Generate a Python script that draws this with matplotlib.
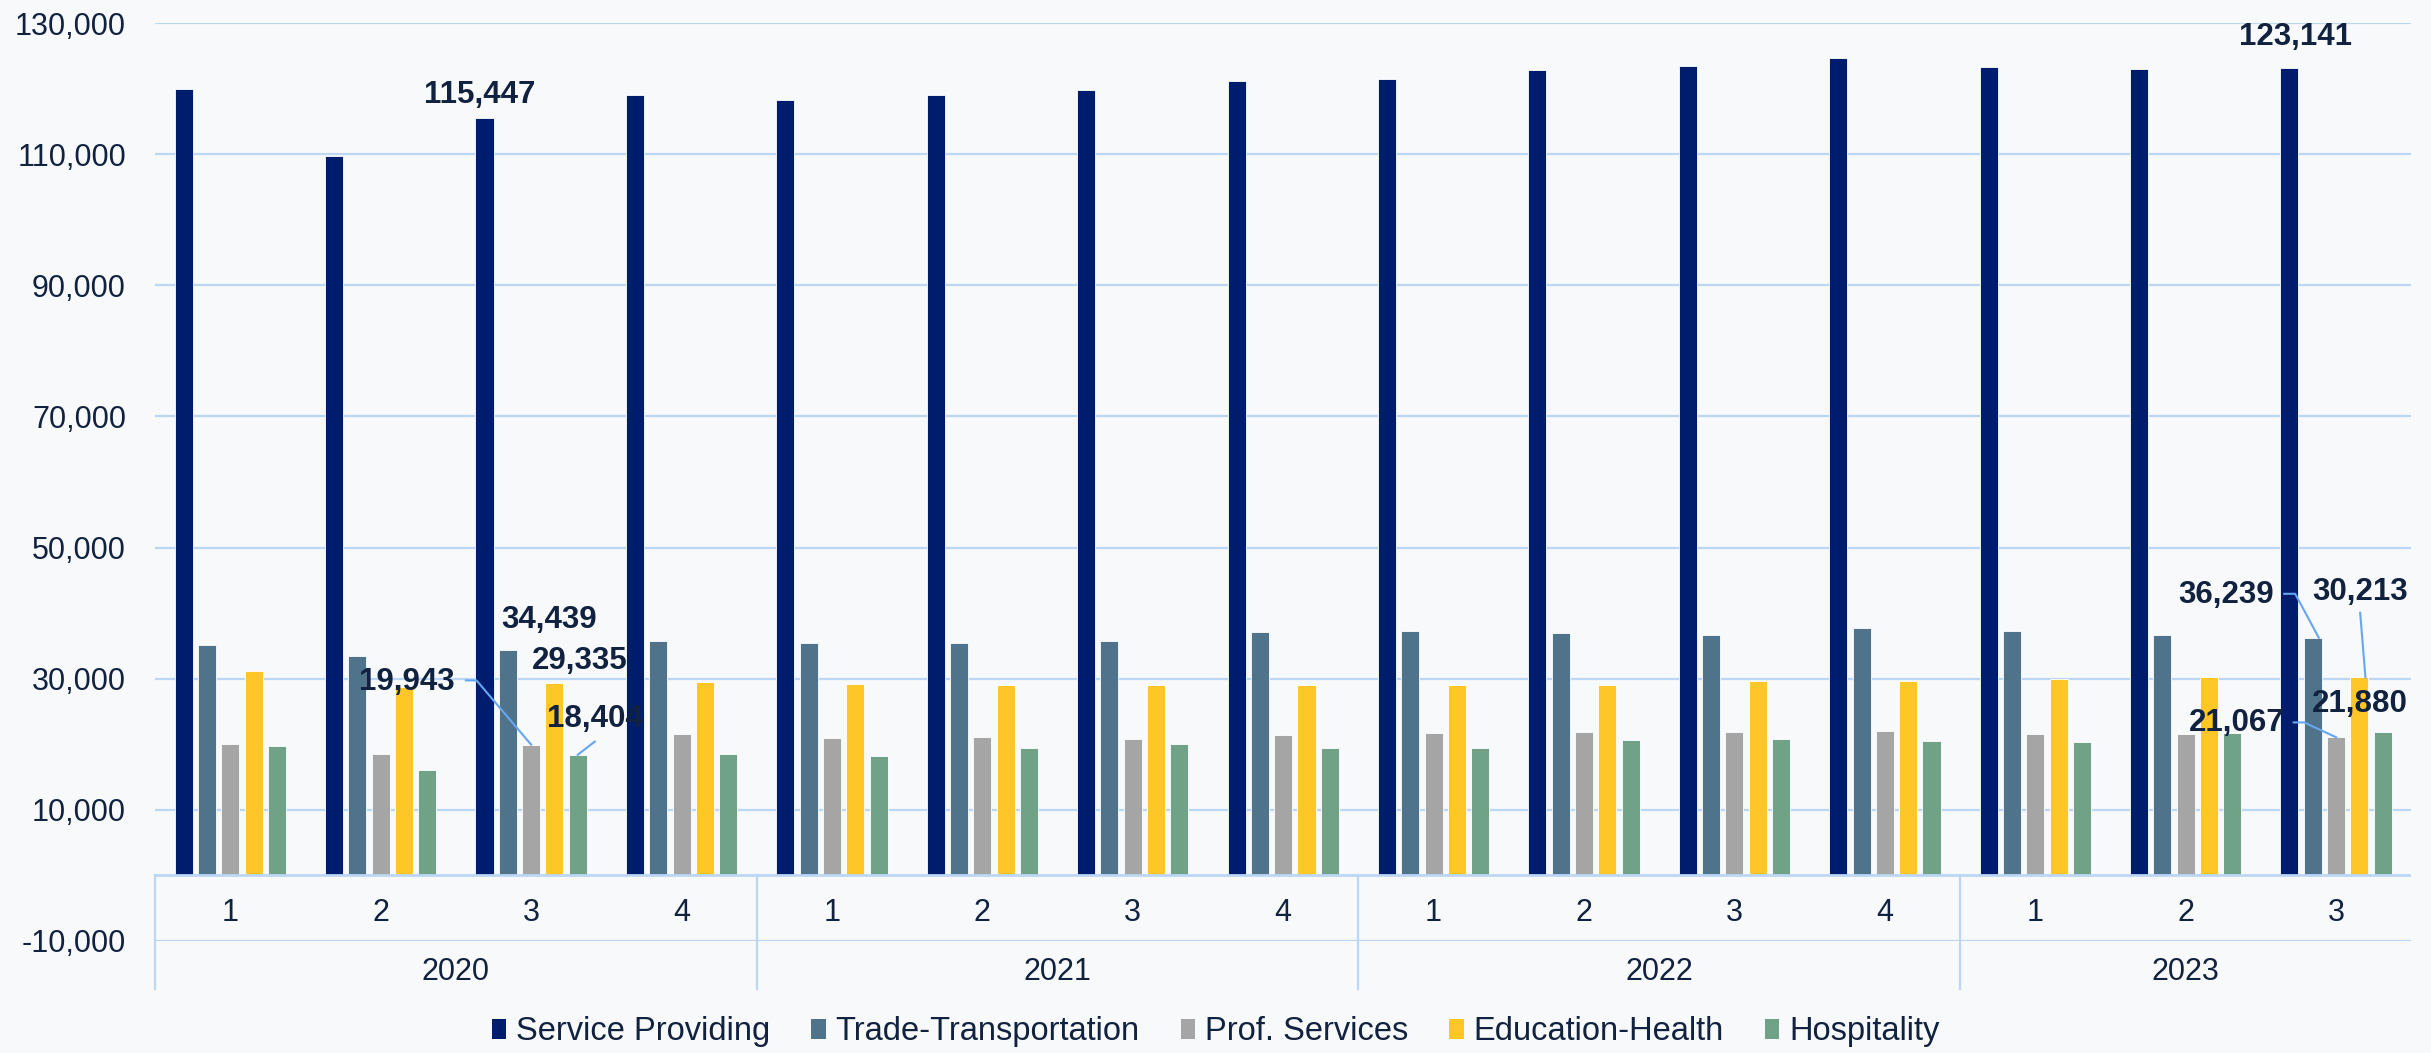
import matplotlib
matplotlib.use("Agg")
import matplotlib.pyplot as plt
from matplotlib.patches import Patch
from matplotlib.ticker import FuncFormatter

plt.rcParams['font.family'] = ['Liberation Sans', 'DejaVu Sans']

# quarterly data
years = ["2020", "2021", "2022", "2023"]
quarters = ["1", "2", "3", "4", "1", "2", "3", "4", "1", "2", "3", "4", "1", "2", "3"]
year_spans = [(0, 3), (4, 7), (8, 11), (12, 14)]

series_names = ["Service Providing", "Trade-Transportation", "Prof. Services",
                "Education-Health", "Hospitality"]
service = [119950, 109750, 115447, 119000, 118200, 119000, 119750, 121200,
           121400, 122900, 123450, 124600, 123300, 123050, 123141]
trade = [35100, 33400, 34439, 35800, 35500, 35400, 35700, 37100,
         37300, 37000, 36700, 37800, 37200, 36600, 36239]
prof = [20050, 18500, 19943, 21600, 20900, 21100, 20800, 21400,
        21700, 21900, 21900, 22000, 21500, 21600, 21067]
edu = [31200, 28700, 29335, 29500, 29200, 29100, 29100, 29100,
       29100, 29100, 29600, 29600, 29900, 30200, 30213]
hosp = [19750, 16100, 18404, 18500, 18200, 19400, 20100, 19500,
        19400, 20600, 20800, 20500, 20400, 21700, 21880]
colors = ["#001C6C", "#4F738A", "#A5A5A5", "#FFC627", "#70A288"]

text_col = "#10223F"
grid_col = "#BCD7F6"
lead_col = "#66A6F2"

fig = plt.figure(figsize=(24.31, 10.53), dpi=100, facecolor="#F8F9FA")
ax = fig.add_axes([0.0638, 0.1064, 0.9281, 0.8717])
ax.set_facecolor("none")

all_series = [service, trade, prof, edu, hosp]
n = len(quarters)
x = list(range(n))
step = 0.155
width = 0.12
for k, (vals, name, col) in enumerate(zip(all_series, series_names, colors)):
    xs = [i + (k - 2) * step for i in x]
    ax.bar(xs, vals, width=width, color=col, edgecolor="white", linewidth=0.6,
           label=name, zorder=3)

ax.set_xlim(-0.5, n - 0.5)
ax.set_ylim(-10000, 130000)
ax.set_yticks(range(-10000, 130001, 20000))
ax.yaxis.set_major_formatter(FuncFormatter(lambda v, p: f"{v:,.0f}"))
ax.tick_params(axis="y", length=0, pad=21, labelsize=22, labelcolor=text_col)
ax.set_xticks([])
ax.yaxis.grid(True, color=grid_col, lw=1.6, zorder=0)
ax.axhline(0, color=grid_col, lw=2, zorder=4)
for s in ax.spines.values():
    s.set_visible(False)

# multi-level category axis
for i, q in enumerate(quarters):
    ax.text(i, -5800, q, ha="center", va="center", fontsize=22, color=text_col)
for yr, (a, b) in zip(years, year_spans):
    ax.text((a + b) / 2, -14800, yr, ha="center", va="center", fontsize=22,
            color=text_col, clip_on=False)
for xb in [-0.5, 3.5, 7.5, 11.5]:
    ax.plot([xb, xb], [0, -17300], color=grid_col, lw=1.6, clip_on=False, zorder=4)

# data labels: (text, text x, text y, leader points)
def bx(i, k):
    return i + (k - 2) * step

labels = [
    ("115,447", bx(2, 0) - 0.03, 119000, None),
    ("123,141", bx(14, 0) + 0.04, 127800, None),
    ("34,439", 2.117, 38900, None),
    ("29,335", 2.323, 32700, None),
    ("19,943", 1.174, 29500, [(1.566, 29740), (1.637, 29740), (bx(2, 2), prof[2])]),
    ("18,404", 2.423, 23800, [(2.423, 20400), (bx(2, 4), hosp[2])]),
    ("36,239", 13.27, 42800, [(13.655, 42950), (13.728, 42950), (bx(14, 1) + 0.04, trade[14])]),
    ("30,213", 14.16, 43300, [(14.16, 40050), (bx(14, 3) + 0.04, edu[14])]),
    ("21,067", 13.336, 23200, [(13.718, 23330), (13.788, 23330), (bx(14, 2), prof[14])]),
    ("21,880", 14.16, 26200, None),
]
for txt, tx, ty, pts in labels:
    if pts:
        ax.plot([p[0] for p in pts], [p[1] for p in pts], color=lead_col,
                lw=1.5, zorder=5)
    ax.text(tx, ty, txt, ha="center", va="center", fontsize=22.5,
            fontweight="bold", color=text_col, zorder=6)

handles = [Patch(facecolor=c, edgecolor="none", label=nm)
           for c, nm in zip(colors, series_names)]
fig.legend(handles=handles, loc="center", bbox_to_anchor=(0.5, 0.02), ncol=5,
           frameon=False, fontsize=23.5, handlelength=0.45, handleheight=0.6,
           handletextpad=0.3, columnspacing=1.25, labelcolor=text_col)

fig.savefig("out.png", dpi=100, facecolor=fig.get_facecolor())
